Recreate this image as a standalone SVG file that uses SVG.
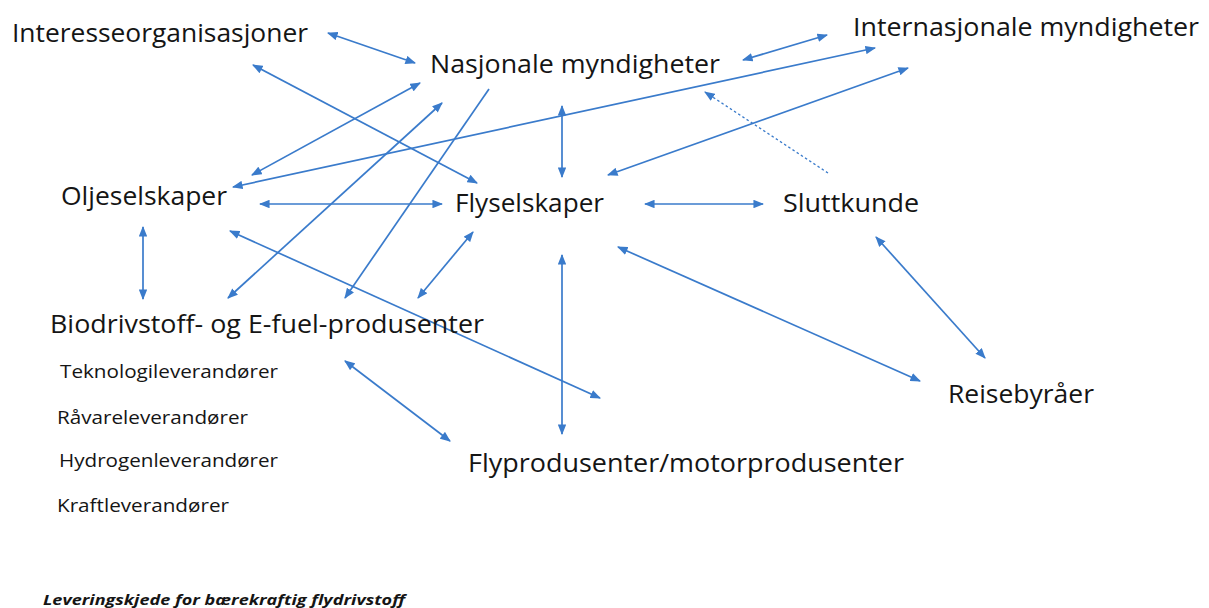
<svg xmlns="http://www.w3.org/2000/svg" width="1209" height="608" viewBox="0 0 1209 608">
  <defs>
    <marker id="ah" viewBox="0 0 10 8" refX="9" refY="4" markerWidth="11" markerHeight="8.5" markerUnits="userSpaceOnUse" orient="auto-start-reverse">
      <path d="M0,0 L10,4 L0,8 Z" fill="#3A7BCB"/>
    </marker>
    <style>
      .lbl { font-family: "Open Sans", "Liberation Sans", Arial, sans-serif; font-size: 25px; fill: #151515; }
      .sub { font-family: "Open Sans", "Liberation Sans", Arial, sans-serif; font-size: 18px; fill: #151515; }
      .cap { font-family: "Open Sans", "Liberation Sans", Arial, sans-serif; font-size: 14px; font-weight: bold; font-style: italic; fill: #151515; }
      .ln { stroke: #3A7BCB; stroke-width: 1.7; fill: none; }
      .both { marker-start: url(#ah); marker-end: url(#ah); }
      .one { marker-end: url(#ah); }
      .dot { stroke-dasharray: 2.5 2.5; stroke-width: 1.3; }
    </style>
  </defs>

  <!-- relations between the actors in the supply chain -->
  <g id="connectors">
    <line class="ln both" x1="328" y1="33" x2="415" y2="63"/>
    <line class="ln both" x1="253" y1="65" x2="477" y2="183"/>
    <line class="ln both" x1="420" y1="83" x2="252" y2="175"/>
    <line class="ln both" x1="875" y1="48" x2="233" y2="187"/>
    <line class="ln both" x1="442" y1="103" x2="228" y2="298"/>
    <line class="ln one" x1="489" y1="89" x2="345" y2="298"/>
    <line class="ln both" x1="260" y1="204" x2="442" y2="204"/>
    <line class="ln both" x1="562" y1="106" x2="562" y2="177"/>
    <line class="ln both" x1="743" y1="60" x2="827" y2="35"/>
    <line class="ln both" x1="908" y1="68" x2="608" y2="175"/>
    <line class="ln one dot" x1="828" y1="173" x2="705" y2="92"/>
    <line class="ln both" x1="645" y1="204" x2="763" y2="204"/>
    <line class="ln both" x1="143" y1="227" x2="143" y2="299"/>
    <line class="ln both" x1="230" y1="231" x2="600" y2="398"/>
    <line class="ln both" x1="473" y1="232" x2="418" y2="298"/>
    <line class="ln both" x1="562" y1="255" x2="562" y2="434"/>
    <line class="ln both" x1="618" y1="247" x2="920" y2="381"/>
    <line class="ln both" x1="876" y1="237" x2="985" y2="358"/>
    <line class="ln both" x1="345" y1="361" x2="450" y2="441"/>
  </g>

  <g id="interesseorganisasjoner"><text class="lbl" x="12" y="42" textLength="296" lengthAdjust="spacingAndGlyphs">Interesseorganisasjoner</text></g>
  <g id="nasjonale-myndigheter"><text class="lbl" x="430" y="73" textLength="290" lengthAdjust="spacingAndGlyphs">Nasjonale myndigheter</text></g>
  <g id="internasjonale-myndigheter"><text class="lbl" x="853" y="36" textLength="346" lengthAdjust="spacingAndGlyphs">Internasjonale myndigheter</text></g>
  <g id="oljeselskaper"><text class="lbl" x="61" y="205" textLength="166" lengthAdjust="spacingAndGlyphs">Oljeselskaper</text></g>
  <g id="flyselskaper"><text class="lbl" x="455" y="212" textLength="149" lengthAdjust="spacingAndGlyphs">Flyselskaper</text></g>
  <g id="sluttkunde"><text class="lbl" x="783" y="212" textLength="136" lengthAdjust="spacingAndGlyphs">Sluttkunde</text></g>
  <g id="biodrivstoff"><text class="lbl" x="50" y="333" textLength="434" lengthAdjust="spacingAndGlyphs">Biodrivstoff- og E-fuel-produsenter</text></g>
  <g id="underleverandorer">
    <text class="sub" x="60" y="378" textLength="218" lengthAdjust="spacingAndGlyphs">Teknologileverandører</text>
    <text class="sub" x="57" y="424" textLength="191" lengthAdjust="spacingAndGlyphs">Råvareleverandører</text>
    <text class="sub" x="59" y="467" textLength="219" lengthAdjust="spacingAndGlyphs">Hydrogenleverandører</text>
    <text class="sub" x="57" y="512" textLength="172" lengthAdjust="spacingAndGlyphs">Kraftleverandører</text>
  </g>
  <g id="flyprodusenter"><text class="lbl" x="468" y="472" textLength="436" lengthAdjust="spacingAndGlyphs">Flyprodusenter/motorprodusenter</text></g>
  <g id="reisebyraer"><text class="lbl" x="948" y="403" textLength="146" lengthAdjust="spacingAndGlyphs">Reisebyråer</text></g>

  <text class="cap" x="43" y="605" textLength="362" lengthAdjust="spacingAndGlyphs">Leveringskjede for bærekraftig flydrivstoff</text>
</svg>
